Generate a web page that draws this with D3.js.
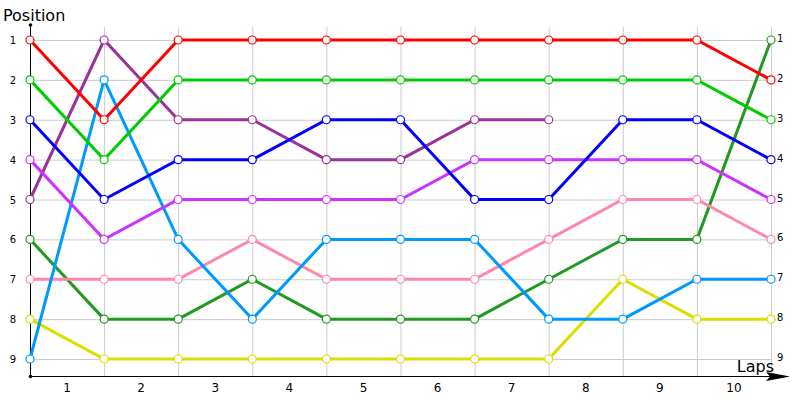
<html>
<head>
  <script src="https://d3js.org/d3.v7.min.js"></script>
  <style>
    body { margin: 0; background: #fff; }
    text { font-family: "DejaVu Sans", sans-serif; }
  </style>
</head>
<body>
<script>
var laps = ["1", "2", "3", "4", "5", "6", "7", "8", "9", "10"];
var positions = [1, 2, 3, 4, 5, 6, 7, 8, 9];

var red       = [1, 3, 1, 1, 1, 1, 1, 1, 1, 1, 2];
var green     = [2, 4, 2, 2, 2, 2, 2, 2, 2, 2, 3];
var blue      = [3, 5, 4, 4, 3, 3, 5, 5, 3, 3, 4];
var purple    = [5, 1, 3, 3, 4, 4, 3, 3];
var magenta   = [4, 6, 5, 5, 5, 5, 4, 4, 4, 4, 5];
var pink      = [7, 7, 7, 6, 7, 7, 7, 6, 5, 5, 6];
var lightBlue = [9, 2, 6, 8, 6, 6, 6, 8, 8, 7, 7];
var darkGreen = [6, 8, 8, 7, 8, 8, 8, 7, 6, 6, 1];
var yellow    = [8, 9, 9, 9, 9, 9, 9, 9, 7, 8, 8];

var series = [
  { values: yellow, color: "#dddd00" },
  { values: darkGreen, color: "#229922" },
  { values: pink, color: "#ff88aa" },
  { values: lightBlue, color: "#0099ff" },
  { values: purple, color: "#993399" },
  { values: magenta, color: "#cc33ff" },
  { values: blue, color: "#0000ff" },
  { values: green, color: "#00cc00" },
  { values: red, color: "#ff0000" }
];

var width = 800, height = 400;
var svg = d3.select("body").append("svg")
  .attr("width", width)
  .attr("height", height);

var x = d3.scaleLinear().domain([0, laps.length]).range([30, 771]);
var y = d3.scaleLinear().domain([1, 9]).range([40, 359]);

// grid
var grid = svg.append("g").attr("stroke", "#cccccc").attr("stroke-width", 1);
grid.selectAll("line.v")
  .data(d3.range(1, laps.length + 1))
  .enter().append("line")
  .attr("x1", d => x(d) + 0.5).attr("x2", d => x(d) + 0.5)
  .attr("y1", 27).attr("y2", 376);
grid.selectAll("line.h")
  .data(positions)
  .enter().append("line")
  .attr("x1", x(0)).attr("x2", x(laps.length))
  .attr("y1", d => y(d) + 0.5).attr("y2", d => y(d) + 0.5);

// axes
svg.append("line")
  .attr("x1", x(0) + 0.5).attr("x2", x(0) + 0.5)
  .attr("y1", 25).attr("y2", 376.5)
  .attr("stroke", "#000");
svg.append("circle").attr("cx", x(0) + 0.5).attr("cy", 25).attr("r", 1.8).attr("fill", "#000");
svg.append("line")
  .attr("x1", x(0)).attr("x2", 780)
  .attr("y1", 376.5).attr("y2", 376.5)
  .attr("stroke", "#000");
svg.append("circle").attr("cx", x(0) + 0.5).attr("cy", 376.5).attr("r", 1.8).attr("fill", "#000");
svg.append("path")
  .attr("d", "M766,372 L790,376.5 L766,381 L770,376.5 Z")
  .attr("fill", "#000");

// tick labels
svg.selectAll("text.yl")
  .data(positions)
  .enter().append("text")
  .attr("x", 13).attr("y", d => y(d) + 4)
  .attr("text-anchor", "middle")
  .attr("font-size", 10)
  .text(d => d);
svg.selectAll("text.yr")
  .data(positions)
  .enter().append("text")
  .attr("x", x(laps.length) + 6).attr("y", d => y(d) + 2)
  .attr("font-size", 10)
  .text(d => d);
svg.selectAll("text.xl")
  .data(laps)
  .enter().append("text")
  .attr("x", (d, i) => (x(i) + x(i + 1)) / 2)
  .attr("y", 392)
  .attr("text-anchor", "middle")
  .attr("font-size", 12)
  .text(d => d);

svg.append("text").attr("x", 3).attr("y", 21).attr("font-size", 16).text("Position");
svg.append("text").attr("x", 774).attr("y", 372).attr("text-anchor", "end").attr("font-size", 16).text("Laps");

// lines
var line = d3.line().x((d, i) => x(i)).y(d => y(d));
var lines = svg.append("g");
series.forEach(function(s) {
  lines.append("path")
    .attr("d", line(s.values))
    .attr("fill", "none")
    .attr("stroke", s.color)
    .attr("stroke-width", 3);
});
series.forEach(function(s) {
  lines.selectAll(null)
    .data(s.values)
    .enter().append("circle")
    .attr("cx", (d, i) => x(i))
    .attr("cy", d => y(d))
    .attr("r", 4)
    .attr("fill", "#fff")
    .attr("stroke", s.color)
    .attr("stroke-width", 1.2);
});
</script>
</body>
</html>
